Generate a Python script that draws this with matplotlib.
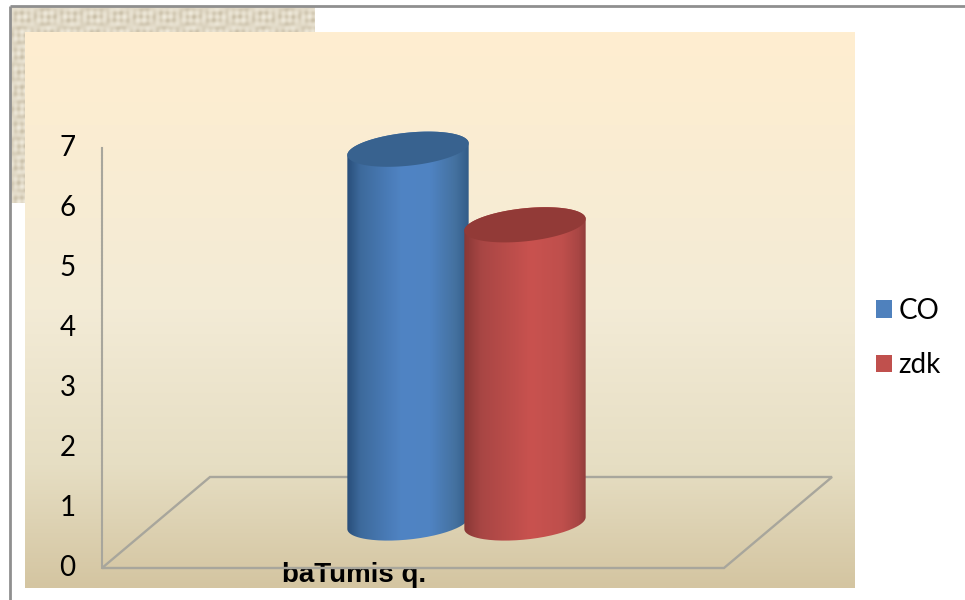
import numpy as np
import matplotlib
matplotlib.use('Agg')
import matplotlib.pyplot as plt
from matplotlib.colors import LinearSegmentedColormap
from matplotlib.patches import Patch, Polygon, PathPatch
from matplotlib.path import Path
from matplotlib.transforms import ScaledTranslation

# Data
categories = ['baTumis q.']
series_names = ['CO', 'zdk']
series_values = [6.23, 4.97]
y_ticks = [0, 1, 2, 3, 4, 5, 6, 7]

W, H = 965, 600
px_per_unit = 60.0
floor_y = 568

fig = plt.figure(figsize=(W / 100, H / 100), dpi=100, facecolor='white')

# background layer, in pixels
bg = fig.add_axes([0, 0, 1, 1])
bg.set_xlim(0, W)
bg.set_ylim(H, 0)
bg.axis('off')

# woven beige texture behind the panel
yy, xx = np.mgrid[0:196, 0:305]
weave = (np.sin(xx * 0.95) * np.sin(yy * 0.17) + np.sin(yy * 0.85) * np.sin(xx * 0.13)
         + 0.5 * np.sin(xx * 0.31 + yy * 0.41))
tex_cmap = LinearSegmentedColormap.from_list('tex', ['#c9bfa8', '#e0d8c5', '#f0ebdd'])
bg.imshow(weave, extent=(10, 315, 203, 7), cmap=tex_cmap, aspect='auto', zorder=1,
          interpolation='bilinear')

# panel gradient
panel_cmap = LinearSegmentedColormap.from_list(
    'panel', [(0, '#ffeed0'), (0.5, '#f3ebd6'), (0.78, '#e6dec3'), (1, '#d4c5a1')])
bg.imshow(np.linspace(0, 1, 256).reshape(-1, 1), extent=(25, 855, 588, 32), cmap=panel_cmap,
          aspect='auto', zorder=2)

# slide frame
bg.plot([10, 10], [6, 600], color='#8f8f8f', lw=2, zorder=3, solid_capstyle='butt')
bg.plot([10, 965], [6, 6], color='#8f8f8f', lw=2, zorder=3, solid_capstyle='butt')
bg.set_xlim(0, W)
bg.set_ylim(H, 0)

# chart axes: y in values, x in pixels, one spare unit on top for the cylinder caps
left, right = 102, 832
y_max = 8
top = floor_y - y_max * px_per_unit
ax = fig.add_axes([left / W, 1 - floor_y / H, (right - left) / W, (floor_y - top) / H])
ax.patch.set_alpha(0)
ax.set_xlim(left, right)
ax.set_ylim(0, y_max)
for s in ['top', 'right', 'bottom']:
    ax.spines[s].set_visible(False)
ax.spines['left'].set_color('#a8a69c')
ax.spines['left'].set_linewidth(1.5)
ax.spines['left'].set_linestyle((0, (1, 0.6)))
ax.spines['left'].set_bounds(0, 7)

ax.set_yticks(y_ticks)
ax.set_yticklabels([str(v) for v in y_ticks], fontsize=20, color='black',
                   family=['Lato', 'DejaVu Sans'])
ax.set_xticks([354])
ax.set_xticklabels(categories, fontsize=20, fontweight='bold', color='black',
                   family=['Liberation Sans', 'DejaVu Sans'])
ax.tick_params(axis='both', length=0)
ax.tick_params(axis='y', pad=19)
ax.tick_params(axis='x', pad=-4)
# tick digits sit a little above their gridline height
shift_up = ScaledTranslation(0, 3 / 100, fig.dpi_scale_trans)
for lab in ax.get_yticklabels():
    lab.set_transform(lab.get_transform() + shift_up)

# 3D floor
back = (floor_y - 477) / px_per_unit
floor = Polygon([(102, 0), (210, back), (832, back), (724, 0)], closed=True, fill=False,
                edgecolor='#a8a69c', lw=1.7, clip_on=False, zorder=2)
ax.add_patch(floor)


def arc(cx, cy, a, b, tilt, t):
    # tilted ellipse in pixel units, y pointing up
    c, s = np.cos(tilt), np.sin(tilt)
    x = a * np.cos(t)
    y = b * np.sin(t)
    return cx + x * c - y * s, cy + x * s + y * c


def cylinder(cx, value, colors, top_color, zorder):
    a, b = 61, 16.5
    tilt = np.deg2rad(6)
    base_px = floor_y - 523
    top_px = base_px + value * px_per_unit
    low_x, low_y = arc(cx, base_px, a, b, tilt, np.linspace(np.pi, 2 * np.pi, 80))
    up_x, up_y = arc(cx, top_px, a, b, tilt, np.linspace(0, np.pi, 80))
    xs = np.concatenate([low_x, up_x])
    ys = np.concatenate([low_y, up_y]) / px_per_unit

    cmap = LinearSegmentedColormap.from_list('cyl', colors)
    body = PathPatch(Path(np.column_stack([xs, ys])), facecolor='none', edgecolor='none')
    ax.add_patch(body)
    im = ax.imshow(np.linspace(0, 1, 200).reshape(1, -1), cmap=cmap, aspect='auto',
                   extent=(cx - a - 2, cx + a + 2, 0, value + 2), zorder=zorder)
    im.set_clip_path(body)
    tx, ty = arc(cx, top_px, a, b, tilt, np.linspace(0, 2 * np.pi, 160))
    ax.fill(tx, ty / px_per_unit, color=top_color, zorder=zorder + 0.1, lw=0)


cylinder(408, series_values[0], [(0, '#264a75'), (0.12, '#3d6a9c'), (0.45, '#5084c4'), (0.68, '#4f83c2'),
                                 (0.88, '#44719f'), (1, '#2f5985')], '#38628f', 4)
cylinder(525, series_values[1], [(0, '#853634'), (0.15, '#a84644'), (0.55, '#c9524f'), (0.8, '#bf4f4c'),
                                 (0.93, '#a84644'), (1, '#8c3b39')], '#923a37', 5)
ax.set_xlim(left, right)
ax.set_ylim(0, y_max)

# legend outside the axes
handles = [Patch(facecolor='#4f81bd', label=series_names[0]),
           Patch(facecolor='#c0504d', label=series_names[1])]
leg = fig.legend(handles=handles, loc='center left', bbox_to_anchor=(876 / W, 1 - 338 / H),
                 frameon=False, handlelength=0.58, handleheight=0.6, handletextpad=0.22,
                 labelspacing=1.02, borderpad=0, borderaxespad=0,
                 prop={'family': 'Lato', 'size': 20})

fig.savefig('out.png', dpi=100)
